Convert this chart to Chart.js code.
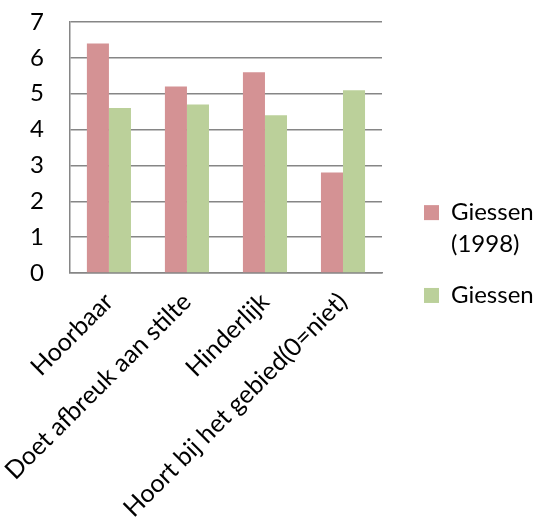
<!DOCTYPE html>
<html>
<head>
  <title>Giessen</title>
  <script src="https://cdn.jsdelivr.net/npm/chart.js"></script>
  <style>
    body { margin: 0; background: #fff; }
    #wrap { width: 535px; height: 522px; }
  </style>
</head>
<body>
  <div id="wrap"><canvas id="chart" width="535" height="522"></canvas></div>

  <script>
    const categories = ['Hoorbaar', 'Doet afbreuk aan stilte', 'Hinderlijk', 'Hoort bij het gebied(0=niet)'];
    const seriesNames = ['Giessen (1998)', 'Giessen'];
    const legendLines = [['Giessen', '(1998)'], ['Giessen']];
    const giessen1998 = [6.4, 5.2, 5.6, 2.8];
    const giessen = [4.6, 4.7, 4.4, 5.1];
    const colors = ['#D49294', '#BBD09A'];

    const font = 'Lato';

    // keep the legend narrow on the right but leave room between plot and legend
    const legendGap = {
      id: 'legendGap',
      afterInit(chart) {
        const lg = chart.legend;
        const fit = lg.fit;
        lg.fit = function () {
          fit.call(this);
          this.width = 153;
        };
      },
      afterLayout(chart) {
        const lg = chart.legend;
        lg.left = chart.chartArea.right + 23;
        lg.top -= 14;
        lg.bottom -= 14;
      }
    };

    new Chart(document.getElementById('chart'), {
      type: 'bar',
      data: {
        labels: categories,
        datasets: [
          { label: seriesNames[0], data: giessen1998, backgroundColor: colors[0] },
          { label: seriesNames[1], data: giessen, backgroundColor: colors[1] }
        ]
      },
      plugins: [legendGap],
      options: {
        responsive: false,
        animation: false,
        layout: { padding: { top: 22, left: 4, right: 0, bottom: 0 } },
        datasets: { bar: { categoryPercentage: 0.565, barPercentage: 1 } },
        plugins: {
          tooltip: { enabled: false },
          legend: {
            position: 'right',
            labels: {
              color: '#000',
              font: { family: font, size: 24, lineHeight: 1.33 },
              boxWidth: 15,
              boxHeight: 15,
              padding: 19,
              generateLabels: chart => chart.data.datasets.map((ds, i) => ({
                text: legendLines[i],
                fillStyle: ds.backgroundColor,
                strokeStyle: ds.backgroundColor,
                lineWidth: 0,
                datasetIndex: i
              }))
            }
          }
        },
        scales: {
          x: {
            grid: { display: false, drawTicks: false },
            border: { color: '#868686', width: 1.5 },
            afterFit: s => { s.height = 249; },
            ticks: {
              color: '#000',
              font: { family: font, size: 25 },
              minRotation: 45,
              maxRotation: 45,
              padding: 14,
              autoSkip: false
            }
          },
          y: {
            min: 0,
            max: 7,
            grid: { color: '#868686', lineWidth: 1.5, drawTicks: false },
            border: { color: '#868686', width: 1.5 },
            afterFit: s => { s.paddingTop = 0; s.paddingBottom = 0; },
            ticks: {
              stepSize: 1,
              color: '#000',
              font: { family: font, size: 24 },
              padding: 26
            }
          }
        }
      }
    });
  </script>
</body>
</html>
